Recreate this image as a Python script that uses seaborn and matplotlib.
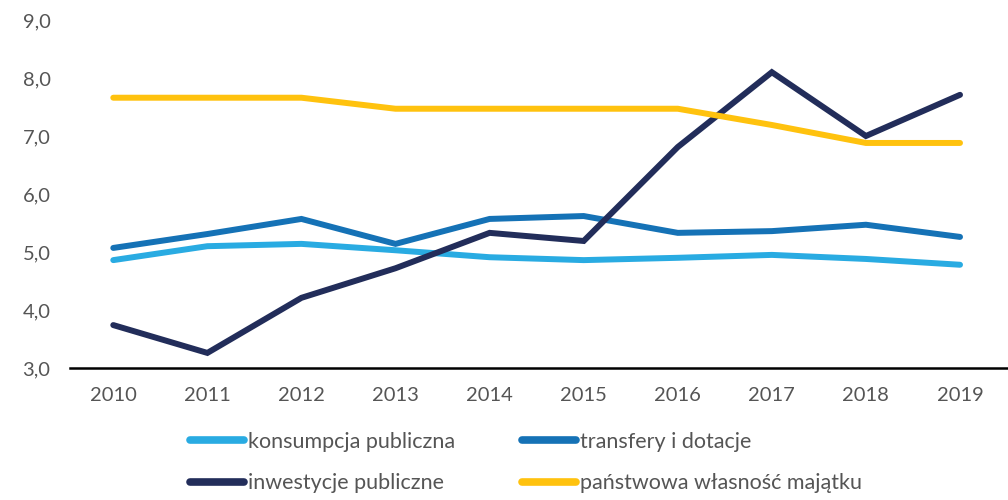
import numpy as np
import pandas as pd
import matplotlib
matplotlib.use("Agg")
import matplotlib.pyplot as plt
import seaborn as sns
from matplotlib.ticker import FuncFormatter
from matplotlib.lines import Line2D

years = [2010, 2011, 2012, 2013, 2014, 2015, 2016, 2017, 2018, 2019]
konsumpcja = [4.86, 5.10, 5.14, 5.03, 4.91, 4.86, 4.90, 4.95, 4.88, 4.78]
transfery = [5.07, 5.31, 5.57, 5.14, 5.57, 5.62, 5.33, 5.36, 5.47, 5.26]
inwestycje = [3.74, 3.26, 4.21, 4.72, 5.33, 5.19, 6.81, 8.10, 7.00, 7.71]
panstwowa = [7.66, 7.66, 7.66, 7.47, 7.47, 7.47, 7.47, 7.19, 6.88, 6.88]

series_names = ["konsumpcja publiczna", "transfery i dotacje",
                "inwestycje publiczne", "państwowa własność majątku"]
series_vals = [konsumpcja, transfery, inwestycje, panstwowa]
colors = ["#29ABE2", "#1572B6", "#222D5A", "#FFC20E"]

sns.set_theme(style="white")
plt.rcParams['font.family'] = ['Lato', 'DejaVu Sans']

rows = []
for name, vals in zip(series_names, series_vals):
    for i, (yr, v) in enumerate(zip(years, vals)):
        rows.append({"idx": i, "year": str(yr), "value": v, "series": name})
df = pd.DataFrame(rows)

fig = plt.figure(figsize=(10.08, 5.0), dpi=100)
ax = fig.add_axes([70/1008, 132/500, 1 - 70/1008, (368-20)/500])

sns.lineplot(data=df, x="idx", y="value", hue="series", hue_order=series_names,
             palette=colors, linewidth=4.3, ax=ax, legend=False,
             solid_capstyle="round", solid_joinstyle="miter")

ax.set_xlim(-0.46, 9.51)
ax.set_ylim(3.0, 9.0)
ax.set_xticks(range(len(years)))
ax.set_xticklabels([str(y) for y in years])
ax.set_yticks(np.arange(3, 9.01, 1.0))
ax.yaxis.set_major_formatter(FuncFormatter(lambda v, p: f"{v:.1f}".replace(".", ",")))
ax.tick_params(axis="both", length=0, labelsize=14.5, colors="#555555")
ax.tick_params(axis="x", pad=14)
ax.tick_params(axis="y", pad=14)
ax.set_xlabel("")
ax.set_ylabel("")
for s in ["left", "right", "top"]:
    ax.spines[s].set_visible(False)
ax.spines["bottom"].set_color("black")
ax.spines["bottom"].set_linewidth(1.8)

handles = [Line2D([0], [0], color=c, lw=5.5, solid_capstyle="round") for c in colors]
order = [0, 2, 1, 3]
fig.legend([handles[i] for i in order], [series_names[i] for i in order],
           loc="center", bbox_to_anchor=(0.522, 0.075), bbox_transform=fig.transFigure,
           ncol=2, frameon=False, fontsize=15.5, handlelength=2.5, handletextpad=0.2,
           columnspacing=3.1, labelspacing=1.0, borderpad=0, labelcolor="#555555")

fig.savefig("out.png", dpi=100)
